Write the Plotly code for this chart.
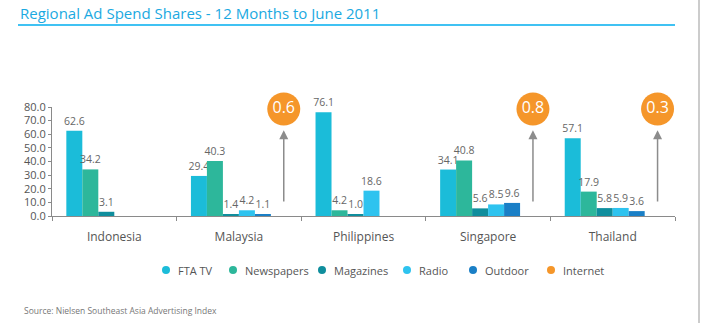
import plotly.graph_objects as go

countries = ["Indonesia", "Malaysia", "Philippines", "Singapore", "Thailand"]
fta_tv = [62.6, 29.4, 76.1, 34.1, 57.1]
newspapers = [34.2, 40.3, 4.2, 40.8, 17.9]
magazines = [3.1, 1.4, 1.0, 5.6, 5.8]
radio = [None, 4.2, 18.6, 8.5, 5.9]
outdoor = [None, 1.1, None, 9.6, 3.6]
internet = [None, 0.6, None, 0.8, 0.3]
y_ticks = [0, 10, 20, 30, 40, 50, 60, 70, 80]

series = [
    ("FTA TV", fta_tv, "#1bbcd9"),
    ("Newspapers", newspapers, "#2db79b"),
    ("Magazines", magazines, "#0f8e9d"),
    ("Radio", radio, "#2ec3ef"),
    ("Outdoor", outdoor, "#1a7fc6"),
    ("Internet", internet, "#f5962a"),
]

FONT = "Open Sans"
TXT = "#666666"

# plot-area geometry (px) used only for paper-coordinate decorations
L, R, T, B = 52, 26, 107, 107
PW, PH = 701 - L - R, 323 - T - B


def px(xp):
    return (xp - L) / PW


def py(yp):
    return (323 - B - yp) / PH


fig = go.Figure()
for name, vals, col in series:
    visible_bar = name != "Internet"
    fig.add_trace(go.Bar(
        x=countries, y=vals, name=name, showlegend=False,
        marker=dict(color=col if visible_bar else "rgba(0,0,0,0)", line=dict(width=0)),
        text=[(f"{v:.1f}" if v is not None else "") for v in vals] if visible_bar else None,
        textposition="outside", constraintext="none", cliponaxis=False,
        textfont=dict(family=FONT, size=10.5, color=TXT),
        hoverinfo="skip",
    ))

# Internet bubbles + arrows
idx = [i for i, v in enumerate(internet) if v is not None]
off = 0.36
fig.add_trace(go.Scatter(
    x=[i + off for i in idx], y=[78.5] * len(idx), mode="markers+text",
    marker=dict(size=33, color="#f5962a", line=dict(width=0)),
    text=[f"{internet[i]:.1f}" for i in idx], textposition="middle center",
    textfont=dict(family=FONT, size=16, color="white"),
    showlegend=False, cliponaxis=False, hoverinfo="skip", xaxis="x2",
))
annotations = []
for i in idx:
    annotations.append(dict(
        x=i + off, y=63.0, ax=i + off, ay=9.5, xref="x", yref="y",
        axref="x", ayref="y", text="", showarrow=True,
        arrowhead=2, arrowsize=1.2, arrowwidth=1.5, arrowcolor="#8c8c8c",
    ))

# manual legend with circle symbols
shapes = []
leg_x = [166, 233, 322, 407, 473, 551]
leg_y = 270
for (name, vals, col), cx in zip(series, leg_x):
    shapes.append(dict(
        type="circle", xref="paper", yref="paper", xsizemode="pixel", ysizemode="pixel",
        xanchor=px(cx), yanchor=py(leg_y), x0=-4, x1=4, y0=-4, y1=4,
        fillcolor=col, line=dict(width=0),
    ))
    annotations.append(dict(
        text=name, xref="paper", yref="paper", x=px(cx + 10), xanchor="left",
        y=py(leg_y), yanchor="middle", showarrow=False,
        font=dict(family=FONT, size=11, color="#555555"),
    ))

shapes += [
    dict(type="line", xref="paper", yref="paper",
         x0=px(18), x1=px(675), y0=py(25), y1=py(25),
         line=dict(color="#00aeef", width=1.5)),
    dict(type="line", xref="paper", yref="paper",
         x0=px(699), x1=px(699), y0=py(323), y1=py(0),
         line=dict(color="#999999", width=1)),
]
annotations.append(dict(
    text="Source: Nielsen Southeast Asia Advertising Index",
    xref="paper", yref="paper", x=px(22), xanchor="left",
    y=py(310), yanchor="middle", showarrow=False,
    font=dict(family=FONT, size=8.5, color="#777777"),
))

fig.update_layout(
    width=701, height=323,
    margin=dict(l=L, r=R, t=T, b=B),
    paper_bgcolor="white", plot_bgcolor="white",
    barmode="group", bargap=0.23, bargroupgap=0,
    font=dict(family=FONT, color=TXT),
    showlegend=False,
    title=dict(
        text="Regional Ad Spend Shares - 12 Months to June 2011",
        xref="container", yref="container", x=20 / 701, xanchor="left",
        y=1 - 14 / 323, yanchor="middle",
        font=dict(family=FONT, size=15, color="#1ba9e1"),
    ),
    xaxis=dict(
        type="category", showgrid=False, showline=True, linecolor="#8a8a8a",
        linewidth=1, ticks="outside", tickson="boundaries", ticklen=4,
        tickcolor="#8a8a8a", tickfont=dict(family=FONT, size=12, color="#555555"),
        ticklabelstandoff=10, range=[-0.5, 4.5], fixedrange=True,
    ),
    xaxis2=dict(
        overlaying="x", range=[-0.5, 4.5], visible=False, showgrid=False,
    ),
    yaxis=dict(
        range=[0, 80], tickvals=y_ticks, ticktext=[f"{v:.1f}" for v in y_ticks],
        showgrid=False, showline=True, linecolor="#8a8a8a", linewidth=1,
        ticks="outside", ticklen=3, tickcolor="#8a8a8a", zeroline=False,
        tickfont=dict(family=FONT, size=11, color="#555555"),
    ),
    shapes=shapes,
    annotations=annotations,
)

fig.write_html("out.html")
